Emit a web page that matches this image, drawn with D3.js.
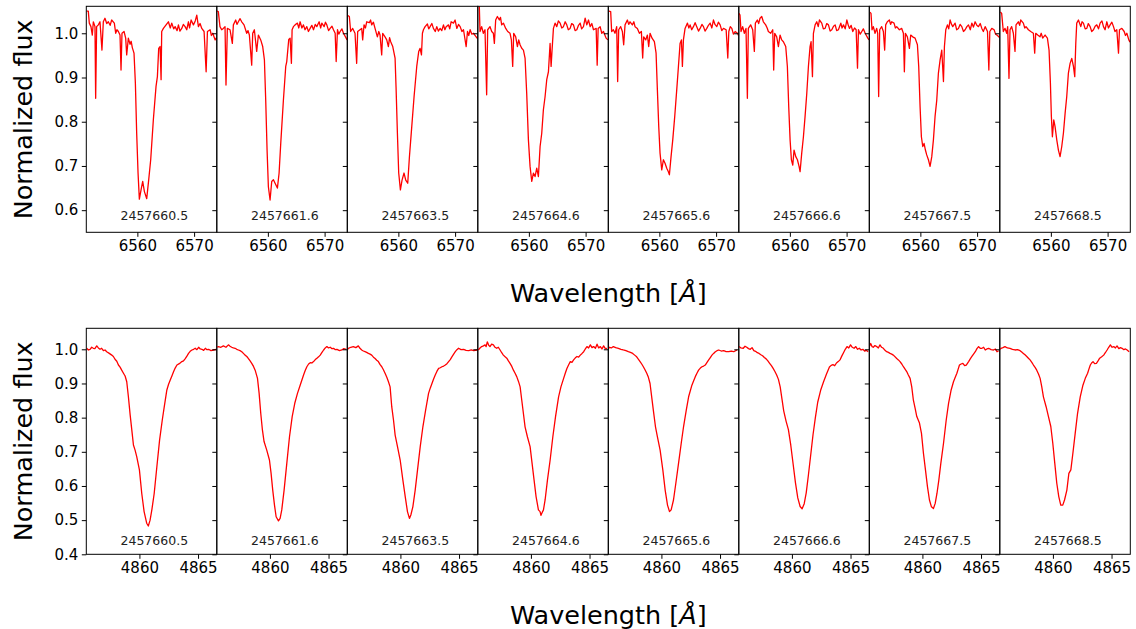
<!DOCTYPE html>
<meta charset="utf-8">
<script src="https://d3js.org/d3.v7.min.js"></script>
<style>
  body { margin: 0; background: #fff; }
  text { font-family: "DejaVu Sans", sans-serif; }
</style>
<div id="chart"></div>
<script>

// observation dates (JD) shown in every panel
var dates = ["2457660.5", "2457661.6", "2457663.5", "2457664.6", "2457665.6", "2457666.6", "2457667.5", "2457668.5"];

// tick values
var haWaveTicks = [6560, 6570];
var hbWaveTicks = [4860, 4865];
var haFluxTicks = [0.6, 0.7, 0.8, 0.9, 1.0];
var hbFluxTicks = [0.4, 0.5, 0.6, 0.7, 0.8, 0.9, 1.0];

// H-alpha spectra, [wavelength, flux]
var ha1 = [[6551.05,1.05],[6551.35,1.05],[6551.53,1.023],[6551.82,1.015],[6552.06,0.996],[6552.24,1.026],[6552.53,1.015],[6552.65,0.853],[6552.82,1.015],[6553.12,1.019],[6553.41,1.026],[6553.76,0.962],[6554.0,1.026],[6554.29,1.034],[6554.6,1.022],[6554.88,1.026],[6555.2,1.018],[6555.47,1.03],[6555.94,1.023],[6556.18,1.0],[6556.4,1.008],[6556.65,1.004],[6556.94,0.996],[6557.12,0.917],[6557.29,1.0],[6557.65,1.004],[6557.94,0.989],[6558.12,0.951],[6558.41,0.989],[6558.71,0.975],[6558.9,0.982],[6559.12,0.967],[6559.41,0.955],[6559.65,0.887],[6559.88,0.774],[6560.12,0.684],[6560.35,0.625],[6560.65,0.646],[6560.94,0.665],[6561.24,0.642],[6561.65,0.626],[6562.0,0.669],[6562.35,0.714],[6562.82,0.805],[6563.29,0.88],[6563.53,0.902],[6563.76,0.966],[6564.0,0.97],[6564.18,0.895],[6564.29,1.004],[6564.59,1.011],[6565.06,1.019],[6565.47,1.026],[6565.8,1.012],[6566.06,1.023],[6566.4,1.01],[6566.65,1.015],[6567.0,1.006],[6567.24,1.019],[6567.5,1.005],[6567.82,1.011],[6568.1,1.02],[6568.41,1.015],[6568.7,1.008],[6569.0,1.026],[6569.2,1.012],[6569.47,1.03],[6569.88,1.019],[6570.2,1.028],[6570.47,1.041],[6570.76,1.015],[6571.05,1.022],[6571.35,1.011],[6571.76,1.004],[6572.12,0.913],[6572.35,1.004],[6572.82,1.008],[6573.05,0.995],[6573.29,1.0],[6573.71,0.985],[6573.95,0.99]];
var ha2 = [[6551.05,1.05],[6551.27,1.049],[6551.56,1.015],[6551.86,1.008],[6552.15,1.011],[6552.45,1.015],[6552.62,0.883],[6552.86,1.011],[6553.33,1.008],[6553.74,0.977],[6553.92,1.019],[6554.33,1.03],[6554.55,1.02],[6554.8,1.026],[6555.1,1.033],[6555.39,1.026],[6555.8,1.019],[6556.27,1.0],[6556.5,1.006],[6556.74,0.996],[6557.15,0.928],[6557.33,1.0],[6557.62,1.008],[6558.03,0.959],[6558.33,0.996],[6558.74,0.985],[6559.09,0.97],[6559.39,0.94],[6559.62,0.849],[6559.86,0.736],[6560.09,0.653],[6560.39,0.623],[6560.68,0.665],[6560.98,0.669],[6561.27,0.661],[6561.68,0.65],[6561.98,0.684],[6562.27,0.751],[6562.74,0.849],[6563.15,0.925],[6563.33,0.936],[6563.51,0.962],[6563.68,0.986],[6563.92,0.989],[6564.15,0.932],[6564.27,1.008],[6564.5,1.015],[6564.8,1.019],[6565.21,1.023],[6565.45,1.012],[6565.68,1.026],[6566.0,1.012],[6566.27,1.019],[6566.55,1.008],[6566.86,1.015],[6567.15,1.004],[6567.45,1.011],[6567.75,1.018],[6568.04,1.008],[6568.35,1.02],[6568.62,1.015],[6569.04,1.026],[6569.3,1.012],[6569.51,1.023],[6569.92,1.015],[6570.15,1.025],[6570.39,1.019],[6570.7,1.006],[6570.98,1.011],[6571.3,1.016],[6571.56,1.008],[6571.86,1.0],[6572.04,0.936],[6572.27,1.008],[6572.5,0.998],[6572.74,1.004],[6573.05,1.01],[6573.33,1.0],[6573.8,0.989],[6573.95,0.985]];
var ha3 = [[6551.1,1.04],[6551.36,1.038],[6551.59,1.004],[6551.95,1.011],[6552.36,1.0],[6552.65,0.932],[6552.83,1.004],[6553.24,1.008],[6553.54,1.011],[6553.71,0.985],[6553.95,1.019],[6554.2,1.012],[6554.42,1.026],[6554.89,1.024],[6555.1,1.03],[6555.3,1.019],[6555.6,1.025],[6555.89,1.011],[6556.3,0.992],[6556.55,1.004],[6556.77,0.996],[6557.06,0.951],[6557.24,1.0],[6557.65,0.992],[6557.95,0.985],[6558.24,0.97],[6558.45,0.99],[6558.65,0.981],[6559.01,0.97],[6559.42,0.944],[6559.59,0.879],[6559.83,0.774],[6560.06,0.684],[6560.36,0.646],[6560.65,0.668],[6561.0,0.684],[6561.3,0.668],[6561.65,0.661],[6561.95,0.721],[6562.36,0.789],[6562.77,0.857],[6563.24,0.925],[6563.59,0.959],[6563.83,0.966],[6564.07,0.951],[6564.24,1.0],[6564.42,1.008],[6564.71,1.015],[6565.12,1.021],[6565.35,1.01],[6565.59,1.015],[6565.9,1.022],[6566.18,1.011],[6566.5,1.004],[6566.77,1.015],[6567.05,1.005],[6567.36,1.011],[6567.65,1.006],[6567.95,1.019],[6568.2,1.008],[6568.42,1.015],[6568.83,1.019],[6569.05,1.01],[6569.3,1.026],[6569.71,1.023],[6570.0,1.03],[6570.3,1.011],[6570.6,1.02],[6570.89,1.015],[6571.2,1.004],[6571.48,1.008],[6571.95,0.97],[6572.18,1.004],[6572.4,0.995],[6572.65,1.008],[6572.95,0.998],[6573.24,1.0],[6573.71,0.992],[6573.95,0.988]];
var ha4 = [[6551.1,1.07],[6551.27,1.06],[6551.39,1.004],[6551.68,1.015],[6551.98,1.0],[6552.27,1.008],[6552.56,0.861],[6552.74,1.008],[6553.15,1.015],[6553.45,1.004],[6553.74,1.0],[6553.92,0.977],[6554.15,1.03],[6554.45,1.038],[6554.8,1.03],[6555.0,1.036],[6555.21,1.019],[6555.51,1.023],[6555.92,1.011],[6556.27,1.004],[6556.68,1.0],[6556.92,0.985],[6557.15,0.925],[6557.33,1.0],[6557.68,0.992],[6557.98,0.97],[6558.21,0.985],[6558.45,0.974],[6558.74,0.966],[6559.04,0.962],[6559.33,0.944],[6559.62,0.864],[6559.92,0.759],[6560.21,0.699],[6560.51,0.665],[6560.8,0.684],[6561.09,0.676],[6561.39,0.695],[6561.68,0.676],[6561.98,0.744],[6562.27,0.774],[6562.56,0.827],[6562.86,0.857],[6563.15,0.895],[6563.45,0.913],[6563.74,0.977],[6563.92,0.925],[6564.09,0.962],[6564.33,1.011],[6564.62,1.023],[6564.92,1.015],[6565.2,1.028],[6565.51,1.023],[6565.8,1.012],[6566.09,1.015],[6566.4,1.026],[6566.68,1.019],[6566.95,1.008],[6567.27,1.011],[6567.55,1.022],[6567.86,1.019],[6568.15,1.006],[6568.45,1.008],[6568.75,1.018],[6569.04,1.023],[6569.3,1.01],[6569.62,1.015],[6569.92,1.034],[6570.21,1.019],[6570.51,1.03],[6570.8,1.015],[6571.1,1.022],[6571.39,1.008],[6571.86,1.011],[6572.04,0.928],[6572.21,1.011],[6572.56,1.015],[6572.85,1.0],[6573.15,1.004],[6573.62,0.989],[6573.92,0.985]];
var ha5 = [[6551.1,1.05],[6551.42,1.049],[6551.59,1.004],[6551.89,1.008],[6552.18,1.0],[6552.48,1.015],[6552.65,0.891],[6552.83,1.008],[6553.18,1.015],[6553.48,1.004],[6553.71,0.974],[6553.95,1.019],[6554.36,1.03],[6554.6,1.02],[6554.83,1.026],[6555.24,1.019],[6555.5,1.026],[6555.71,1.015],[6556.12,1.011],[6556.48,1.0],[6556.83,1.004],[6557.06,0.944],[6557.24,0.992],[6557.59,0.985],[6557.89,0.996],[6558.12,0.97],[6558.36,1.0],[6558.71,0.989],[6559.12,0.981],[6559.42,0.955],[6559.65,0.872],[6559.89,0.789],[6560.12,0.729],[6560.42,0.691],[6560.71,0.714],[6561.0,0.706],[6561.3,0.695],[6561.59,0.687],[6561.77,0.68],[6562.06,0.721],[6562.36,0.759],[6562.71,0.812],[6563.06,0.872],[6563.36,0.925],[6563.65,0.977],[6563.89,0.985],[6564.06,0.925],[6564.24,0.985],[6564.53,1.011],[6564.95,1.023],[6565.2,1.012],[6565.42,1.019],[6565.7,1.008],[6566.0,1.015],[6566.3,1.024],[6566.59,1.015],[6566.9,1.005],[6567.18,1.011],[6567.5,1.02],[6567.77,1.015],[6568.05,1.005],[6568.36,1.011],[6568.65,1.018],[6568.95,1.023],[6569.25,1.012],[6569.53,1.03],[6569.8,1.02],[6570.12,1.015],[6570.4,1.025],[6570.71,1.019],[6571.0,1.006],[6571.3,1.011],[6571.77,1.008],[6572.06,0.944],[6572.24,1.004],[6572.5,1.015],[6572.77,1.011],[6573.05,0.998],[6573.36,1.004],[6573.77,1.0],[6573.95,0.995]];
var ha6 = [[6551.05,1.045],[6551.21,1.041],[6551.39,1.004],[6551.68,1.015],[6551.98,1.0],[6552.27,1.011],[6552.51,0.853],[6552.68,1.011],[6553.09,1.019],[6553.45,1.008],[6553.74,0.959],[6553.92,1.023],[6554.27,1.03],[6554.5,1.022],[6554.74,1.034],[6555.04,1.038],[6555.33,1.026],[6555.74,1.019],[6556.0,1.012],[6556.21,1.004],[6556.62,1.0],[6556.98,1.008],[6557.15,0.917],[6557.33,1.0],[6557.68,0.992],[6557.98,0.97],[6558.27,0.996],[6558.56,0.985],[6558.86,0.981],[6559.27,0.97],[6559.56,0.925],[6559.8,0.834],[6560.04,0.759],[6560.27,0.714],[6560.51,0.702],[6560.74,0.736],[6561.04,0.721],[6561.33,0.714],[6561.62,0.699],[6561.8,0.687],[6562.09,0.729],[6562.39,0.766],[6562.68,0.812],[6562.98,0.864],[6563.27,0.925],[6563.56,0.97],[6563.74,0.981],[6563.98,0.902],[6564.15,1.0],[6564.45,1.019],[6564.74,1.026],[6565.0,1.015],[6565.21,1.03],[6565.62,1.023],[6565.9,1.01],[6566.21,1.011],[6566.5,1.022],[6566.8,1.019],[6567.1,1.005],[6567.39,1.008],[6567.7,1.016],[6567.98,1.019],[6568.25,1.006],[6568.56,1.008],[6568.98,1.023],[6569.2,1.012],[6569.45,1.019],[6569.75,1.01],[6570.04,1.03],[6570.3,1.018],[6570.51,1.011],[6570.8,1.018],[6571.09,1.004],[6571.4,1.012],[6571.68,1.008],[6571.92,0.921],[6572.09,1.008],[6572.4,0.998],[6572.68,1.004],[6572.95,1.01],[6573.27,1.0],[6573.74,0.989],[6573.95,0.985]];
var ha7 = [[6551.1,1.048],[6551.3,1.045],[6551.48,1.008],[6551.71,1.015],[6552.01,1.0],[6552.3,1.011],[6552.48,1.0],[6552.65,0.857],[6552.83,1.008],[6553.18,1.015],[6553.48,1.004],[6553.71,0.962],[6553.89,1.019],[6554.18,1.026],[6554.54,1.03],[6554.75,1.02],[6554.95,1.026],[6555.36,1.023],[6555.6,1.012],[6555.83,1.015],[6556.3,1.008],[6556.71,1.011],[6557.01,1.0],[6557.18,0.913],[6557.36,1.0],[6557.71,0.992],[6558.07,0.966],[6558.3,0.996],[6558.65,0.992],[6559.07,0.989],[6559.48,0.974],[6559.71,0.925],[6559.95,0.834],[6560.18,0.766],[6560.42,0.744],[6560.65,0.751],[6560.89,0.736],[6561.12,0.725],[6561.42,0.714],[6561.71,0.699],[6562.01,0.721],[6562.3,0.759],[6562.59,0.812],[6562.89,0.849],[6563.18,0.91],[6563.48,0.94],[6563.77,0.962],[6564.07,0.891],[6564.24,0.97],[6564.48,1.008],[6564.77,1.019],[6565.0,1.01],[6565.24,1.03],[6565.5,1.02],[6565.71,1.015],[6566.12,1.023],[6566.4,1.008],[6566.71,1.011],[6567.0,1.02],[6567.3,1.015],[6567.6,1.004],[6567.89,1.008],[6568.2,1.015],[6568.48,1.019],[6568.8,1.008],[6569.07,1.023],[6569.35,1.014],[6569.65,1.026],[6569.95,1.018],[6570.24,1.015],[6570.55,1.022],[6570.83,1.011],[6571.1,1.004],[6571.42,1.015],[6571.83,1.004],[6572.07,0.917],[6572.24,1.004],[6572.59,1.011],[6573.0,1.008],[6573.25,0.998],[6573.48,0.996],[6573.83,0.992],[6573.95,0.99]];
var ha8 = [[6551.1,1.048],[6551.33,1.045],[6551.62,1.004],[6551.92,1.011],[6552.21,1.0],[6552.39,1.015],[6552.62,0.898],[6552.8,1.008],[6553.09,1.015],[6553.39,1.0],[6553.68,0.959],[6553.86,1.019],[6554.27,1.026],[6554.5,1.018],[6554.68,1.03],[6555.15,1.023],[6555.4,1.012],[6555.62,1.015],[6556.04,1.008],[6556.45,1.004],[6556.92,1.0],[6557.15,0.955],[6557.33,1.0],[6557.68,0.996],[6558.09,0.992],[6558.3,1.0],[6558.56,0.989],[6558.98,0.996],[6559.39,0.989],[6559.68,0.962],[6559.92,0.887],[6560.09,0.812],[6560.27,0.766],[6560.51,0.804],[6560.74,0.789],[6561.04,0.759],[6561.33,0.736],[6561.62,0.721],[6561.92,0.744],[6562.21,0.774],[6562.51,0.819],[6562.8,0.857],[6563.09,0.91],[6563.39,0.932],[6563.68,0.943],[6563.98,0.925],[6564.21,0.902],[6564.39,0.977],[6564.56,1.023],[6564.86,1.03],[6565.27,1.015],[6565.5,1.026],[6565.74,1.023],[6566.05,1.01],[6566.33,1.011],[6566.6,1.022],[6566.92,1.015],[6567.2,1.004],[6567.51,1.008],[6567.8,1.016],[6568.09,1.019],[6568.4,1.01],[6568.68,1.023],[6569.0,1.028],[6569.27,1.015],[6569.55,1.008],[6569.86,1.026],[6570.15,1.012],[6570.45,1.019],[6570.75,1.025],[6571.04,1.015],[6571.3,1.004],[6571.62,1.008],[6571.92,0.955],[6572.09,1.008],[6572.51,1.011],[6572.92,1.004],[6573.15,0.995],[6573.39,1.0],[6573.74,0.985],[6573.95,0.98]];

// H-beta spectra, [wavelength, flux]
var hb1 = [[4855.5,1.003],[4855.65,0.998],[4855.79,1.0],[4855.93,1.006],[4856.07,1.003],[4856.2,1.002],[4856.36,1.01],[4856.5,1.004],[4856.64,1.0],[4856.78,1.003],[4856.93,0.996],[4857.07,0.998],[4857.21,0.993],[4857.43,0.988],[4857.64,0.983],[4857.78,0.979],[4857.92,0.971],[4858.07,0.965],[4858.21,0.954],[4858.35,0.948],[4858.49,0.939],[4858.64,0.93],[4858.78,0.922],[4858.92,0.905],[4859.06,0.861],[4859.21,0.808],[4859.35,0.764],[4859.49,0.72],[4859.63,0.705],[4859.77,0.686],[4860.0,0.647],[4860.2,0.578],[4860.4,0.525],[4860.62,0.491],[4860.76,0.483],[4860.91,0.5],[4861.06,0.53],[4861.26,0.578],[4861.49,0.657],[4861.72,0.734],[4861.95,0.793],[4862.12,0.832],[4862.34,0.881],[4862.48,0.897],[4862.63,0.91],[4862.77,0.922],[4862.91,0.934],[4863.05,0.945],[4863.2,0.954],[4863.4,0.958],[4863.62,0.964],[4863.76,0.966],[4863.91,0.973],[4864.05,0.98],[4864.19,0.988],[4864.33,0.994],[4864.48,0.998],[4864.62,1.0],[4864.76,1.003],[4864.9,0.999],[4865.05,1.006],[4865.19,1.001],[4865.33,1.0],[4865.48,0.997],[4865.62,1.003],[4865.76,0.999],[4865.9,1.0],[4866.1,0.996],[4866.33,0.998],[4866.56,1.0]];
var hb2 = [[4855.5,1.006],[4855.6,1.008],[4855.82,1.006],[4856.03,1.01],[4856.25,1.006],[4856.46,1.013],[4856.6,1.009],[4856.74,1.006],[4856.88,1.004],[4857.03,1.003],[4857.17,1.0],[4857.31,0.998],[4857.45,0.996],[4857.6,0.993],[4857.74,0.988],[4857.88,0.983],[4858.03,0.979],[4858.17,0.973],[4858.31,0.966],[4858.45,0.959],[4858.6,0.95],[4858.74,0.939],[4858.94,0.915],[4859.08,0.871],[4859.22,0.812],[4859.36,0.764],[4859.5,0.73],[4859.73,0.705],[4859.96,0.676],[4860.1,0.637],[4860.24,0.588],[4860.39,0.544],[4860.53,0.51],[4860.73,0.498],[4860.87,0.505],[4861.01,0.53],[4861.21,0.588],[4861.44,0.666],[4861.67,0.744],[4861.9,0.803],[4862.12,0.842],[4862.35,0.871],[4862.58,0.895],[4862.87,0.925],[4863.01,0.938],[4863.15,0.949],[4863.3,0.957],[4863.44,0.961],[4863.58,0.96],[4863.72,0.964],[4863.87,0.97],[4864.01,0.974],[4864.15,0.978],[4864.29,0.983],[4864.44,0.991],[4864.58,0.998],[4864.72,1.004],[4864.86,1.008],[4865.0,1.004],[4865.15,1.006],[4865.29,1.002],[4865.43,1.003],[4865.58,0.999],[4865.72,1.0],[4865.93,0.996],[4866.14,0.998],[4866.3,1.002],[4866.5,1.0]];
var hb3 = [[4855.5,1.0],[4855.56,1.003],[4855.77,1.006],[4855.98,1.008],[4856.2,1.005],[4856.41,1.01],[4856.55,1.003],[4856.7,0.998],[4856.84,0.995],[4856.98,0.993],[4857.12,0.991],[4857.27,0.988],[4857.41,0.986],[4857.55,0.983],[4857.7,0.977],[4857.84,0.973],[4857.98,0.968],[4858.12,0.964],[4858.27,0.955],[4858.41,0.949],[4858.55,0.94],[4858.69,0.93],[4858.84,0.918],[4858.98,0.905],[4859.12,0.89],[4859.26,0.832],[4859.41,0.793],[4859.55,0.749],[4859.75,0.715],[4859.98,0.676],[4860.21,0.617],[4860.41,0.569],[4860.6,0.525],[4860.77,0.505],[4860.89,0.515],[4861.06,0.539],[4861.26,0.588],[4861.46,0.647],[4861.69,0.715],[4861.92,0.774],[4862.15,0.822],[4862.4,0.871],[4862.55,0.887],[4862.69,0.9],[4862.83,0.913],[4862.97,0.925],[4863.12,0.936],[4863.26,0.944],[4863.4,0.946],[4863.54,0.949],[4863.69,0.951],[4863.83,0.954],[4863.97,0.958],[4864.11,0.964],[4864.25,0.97],[4864.39,0.978],[4864.54,0.986],[4864.68,0.993],[4864.82,0.999],[4864.96,1.003],[4865.17,0.999],[4865.39,1.0],[4865.6,0.997],[4865.83,0.996],[4866.04,0.998],[4866.25,0.996],[4866.54,0.998]];
var hb4 = [[4855.5,0.998],[4855.66,1.004],[4855.8,1.008],[4855.95,1.01],[4856.09,1.013],[4856.18,1.008],[4856.28,1.022],[4856.4,1.012],[4856.51,1.008],[4856.65,1.015],[4856.8,1.013],[4856.94,1.006],[4857.08,1.003],[4857.22,1.006],[4857.37,0.998],[4857.51,0.99],[4857.65,0.983],[4857.8,0.978],[4857.94,0.974],[4858.08,0.966],[4858.22,0.959],[4858.37,0.95],[4858.51,0.939],[4858.65,0.93],[4858.79,0.92],[4858.94,0.906],[4859.08,0.89],[4859.22,0.851],[4859.36,0.812],[4859.5,0.773],[4859.7,0.744],[4859.93,0.715],[4860.1,0.666],[4860.27,0.617],[4860.44,0.569],[4860.64,0.53],[4860.78,0.525],[4860.86,0.514],[4860.93,0.52],[4861.07,0.53],[4861.21,0.559],[4861.41,0.617],[4861.64,0.676],[4861.87,0.744],[4862.1,0.803],[4862.36,0.861],[4862.56,0.89],[4862.79,0.915],[4862.93,0.93],[4863.07,0.944],[4863.22,0.955],[4863.36,0.964],[4863.5,0.962],[4863.64,0.969],[4863.79,0.975],[4863.93,0.979],[4864.07,0.977],[4864.21,0.983],[4864.36,0.988],[4864.5,0.993],[4864.64,1.001],[4864.78,1.008],[4864.92,1.004],[4865.07,1.013],[4865.21,1.005],[4865.35,1.008],[4865.5,1.003],[4865.64,1.015],[4865.78,1.004],[4865.92,1.008],[4866.06,1.001],[4866.2,1.01],[4866.35,1.002],[4866.49,1.003]];
var hb5 = [[4855.5,1.003],[4855.56,1.006],[4855.73,1.004],[4855.9,1.008],[4856.1,1.005],[4856.33,1.003],[4856.55,1.0],[4856.75,0.998],[4856.97,0.996],[4857.18,0.993],[4857.36,0.991],[4857.55,0.988],[4857.72,0.983],[4857.89,0.978],[4858.03,0.971],[4858.18,0.964],[4858.32,0.957],[4858.46,0.949],[4858.6,0.94],[4858.75,0.93],[4858.89,0.918],[4859.03,0.9],[4859.17,0.861],[4859.31,0.822],[4859.49,0.774],[4859.66,0.744],[4859.89,0.705],[4860.12,0.647],[4860.32,0.588],[4860.52,0.544],[4860.69,0.525],[4860.83,0.53],[4861.03,0.559],[4861.23,0.608],[4861.46,0.666],[4861.69,0.725],[4861.89,0.774],[4862.12,0.822],[4862.32,0.861],[4862.6,0.895],[4862.75,0.908],[4862.89,0.92],[4863.03,0.93],[4863.17,0.939],[4863.32,0.945],[4863.46,0.949],[4863.6,0.951],[4863.74,0.954],[4863.89,0.962],[4864.03,0.969],[4864.17,0.976],[4864.31,0.983],[4864.45,0.988],[4864.6,0.993],[4864.74,0.996],[4864.89,0.998],[4865.1,0.995],[4865.31,0.996],[4865.52,0.993],[4865.74,0.993],[4865.95,0.995],[4866.17,0.993],[4866.45,0.998]];
var hb6 = [[4855.5,1.008],[4855.65,1.004],[4855.85,1.003],[4856.0,1.009],[4856.15,1.006],[4856.3,1.002],[4856.45,1.0],[4856.6,1.005],[4856.75,0.996],[4856.9,0.994],[4857.05,0.99],[4857.2,0.988],[4857.35,0.984],[4857.5,0.981],[4857.65,0.976],[4857.8,0.972],[4857.95,0.966],[4858.1,0.959],[4858.25,0.952],[4858.4,0.944],[4858.55,0.935],[4858.7,0.925],[4858.85,0.912],[4859.0,0.89],[4859.15,0.855],[4859.3,0.82],[4859.5,0.79],[4859.7,0.765],[4859.9,0.72],[4860.1,0.665],[4860.3,0.61],[4860.5,0.565],[4860.7,0.54],[4860.87,0.533],[4861.05,0.548],[4861.22,0.58],[4861.4,0.63],[4861.6,0.69],[4861.8,0.75],[4862.0,0.8],[4862.2,0.845],[4862.45,0.88],[4862.7,0.905],[4862.95,0.928],[4863.2,0.948],[4863.35,0.953],[4863.5,0.955],[4863.65,0.952],[4863.8,0.96],[4863.95,0.964],[4864.1,0.969],[4864.25,0.98],[4864.4,0.99],[4864.55,1.0],[4864.7,1.008],[4864.85,1.004],[4865.0,1.013],[4865.15,1.006],[4865.3,1.003],[4865.45,1.008],[4865.6,1.0],[4865.75,1.003],[4865.9,0.998],[4866.05,1.0],[4866.2,0.995],[4866.35,0.997],[4866.5,0.993]];
var hb7 = [[4855.5,1.01],[4855.59,1.017],[4855.7,1.008],[4855.81,1.006],[4855.95,1.011],[4856.1,1.008],[4856.24,1.004],[4856.38,1.013],[4856.52,1.006],[4856.67,1.003],[4856.81,0.997],[4856.95,0.993],[4857.1,0.991],[4857.24,0.988],[4857.38,0.986],[4857.52,0.983],[4857.67,0.978],[4857.81,0.973],[4857.95,0.969],[4858.09,0.964],[4858.24,0.957],[4858.38,0.949],[4858.52,0.942],[4858.66,0.935],[4858.8,0.925],[4858.95,0.915],[4859.09,0.89],[4859.23,0.851],[4859.38,0.827],[4859.52,0.803],[4859.75,0.784],[4859.92,0.754],[4860.09,0.695],[4860.26,0.647],[4860.43,0.598],[4860.6,0.559],[4860.77,0.539],[4860.94,0.534],[4861.09,0.549],[4861.24,0.578],[4861.4,0.617],[4861.57,0.666],[4861.8,0.725],[4862.03,0.793],[4862.23,0.842],[4862.45,0.881],[4862.65,0.905],[4862.8,0.918],[4862.94,0.93],[4863.05,0.942],[4863.16,0.954],[4863.3,0.957],[4863.45,0.959],[4863.6,0.952],[4863.74,0.954],[4863.94,0.964],[4864.08,0.972],[4864.22,0.979],[4864.36,0.986],[4864.51,0.993],[4864.65,1.002],[4864.79,1.008],[4864.93,1.003],[4865.08,1.003],[4865.22,1.006],[4865.36,0.998],[4865.5,1.001],[4865.65,1.003],[4865.86,0.999],[4866.07,0.998],[4866.22,1.001],[4866.36,0.993],[4866.5,0.996]];
var hb8 = [[4855.5,1.0],[4855.57,1.003],[4855.74,1.005],[4855.91,1.008],[4856.12,1.004],[4856.34,1.003],[4856.55,1.0],[4856.77,0.998],[4856.98,0.999],[4857.2,0.996],[4857.34,0.992],[4857.48,0.988],[4857.62,0.984],[4857.77,0.979],[4857.91,0.974],[4858.05,0.969],[4858.2,0.962],[4858.34,0.954],[4858.48,0.947],[4858.62,0.939],[4858.77,0.928],[4858.91,0.915],[4859.05,0.89],[4859.19,0.861],[4859.42,0.832],[4859.62,0.803],[4859.82,0.774],[4859.99,0.725],[4860.16,0.666],[4860.33,0.608],[4860.5,0.569],[4860.67,0.544],[4860.84,0.544],[4860.99,0.559],[4861.19,0.588],[4861.36,0.637],[4861.53,0.647],[4861.7,0.695],[4861.9,0.754],[4862.1,0.812],[4862.33,0.861],[4862.56,0.895],[4862.76,0.915],[4862.96,0.93],[4863.07,0.942],[4863.19,0.954],[4863.3,0.96],[4863.42,0.964],[4863.56,0.958],[4863.71,0.959],[4863.85,0.966],[4863.99,0.974],[4864.16,0.978],[4864.33,0.983],[4864.47,0.99],[4864.62,0.998],[4864.76,1.006],[4864.9,1.013],[4865.05,1.006],[4865.19,1.008],[4865.33,1.004],[4865.47,1.01],[4865.62,1.002],[4865.76,1.005],[4865.9,1.003],[4866.05,0.999],[4866.19,1.001],[4866.33,0.998],[4866.5,0.993]];

var haSpectra = [ha1, ha2, ha3, ha4, ha5, ha6, ha7, ha8];
var hbSpectra = [hb1, hb2, hb3, hb4, hb5, hb6, hb7, hb8];

var width = 1136, height = 629;
var plotLeft = 86.3, panelW = 130.5;

var svg = d3.select("#chart")
  .append("svg")
    .attr("width", width)
    .attr("height", height);

var rows = [
  { spectra: haSpectra, wave: [6551, 6574], flux: [0.55, 1.061], top: 6.3, bottom: 232.3,
    waveTicks: haWaveTicks, fluxTicks: haFluxTicks },
  { spectra: hbSpectra, wave: [4855.47, 4866.6], flux: [0.4, 1.0615], top: 328.3, bottom: 554.3,
    waveTicks: hbWaveTicks, fluxTicks: hbFluxTicks }
];

rows.forEach(function(row, r) {
  var y = d3.scaleLinear().domain(row.flux).range([row.bottom, row.top]);

  row.spectra.forEach(function(spec, i) {
    var x0 = plotLeft + i * panelW;
    var x = d3.scaleLinear().domain(row.wave).range([x0, x0 + panelW]);
    var g = svg.append("g");

    // clip so the line stays inside the frame
    var clipId = "clip" + r + "_" + i;
    svg.append("clipPath").attr("id", clipId)
      .append("rect")
        .attr("x", x0).attr("y", row.top)
        .attr("width", panelW).attr("height", row.bottom - row.top);

    var line = d3.line()
      .x(function(d) { return x(d[0]); })
      .y(function(d) { return y(d[1]); });

    g.append("path")
      .datum(spec)
      .attr("clip-path", "url(#" + clipId + ")")
      .attr("fill", "none")
      .attr("stroke", "#ff0000")
      .attr("stroke-width", 1.3)
      .attr("stroke-linejoin", "round")
      .attr("d", line);

    // date label
    g.append("text")
      .attr("x", x0 + 68)
      .attr("y", r == 0 ? 219.5 : 544.5)
      .attr("text-anchor", "middle")
      .style("font-size", "12.5px")
      .style("fill", "#222")
      .text(dates[i]);

    // x axis
    var xAxis = g.append("g")
      .attr("transform", "translate(0," + row.bottom + ")")
      .call(d3.axisBottom(x).tickValues(row.waveTicks).tickSize(4.5).tickPadding(3.5).tickFormat(d3.format("d")));

    // y axis (labels only on first panel)
    var yAxis = g.append("g")
      .attr("transform", "translate(" + x0 + ",0)")
      .call(d3.axisLeft(y).tickValues(row.fluxTicks).tickSize(4.5).tickPadding(3.5)
        .tickFormat(i == 0 ? d3.format(".1f") : function() { return ""; }));

    [xAxis, yAxis].forEach(function(a) {
      a.select(".domain").remove();
      a.selectAll("line").attr("stroke", "#000").attr("stroke-width", 1);
      a.selectAll("text").style("font-size", "15px").style("fill", "#000")
        .style("font-family", "'DejaVu Sans', sans-serif");
    });

    // frame
    g.append("rect")
      .attr("x", x0).attr("y", row.top)
      .attr("width", panelW).attr("height", row.bottom - row.top)
      .attr("fill", "none")
      .attr("stroke", "#000")
      .attr("stroke-width", 1);
  });

  // axis titles
  svg.append("text")
    .attr("transform", "translate(32.3," + ((row.top + row.bottom) / 2) + ") rotate(-90)")
    .attr("text-anchor", "middle")
    .style("font-size", "25.5px")
    .style("fill", "#000")
    .text("Normalized flux");

  var xl = svg.append("text")
    .attr("x", plotLeft + 4 * panelW)
    .attr("y", row.bottom + 70)
    .attr("text-anchor", "middle")
    .style("font-size", "25.5px")
    .style("fill", "#000");
  xl.append("tspan").text("Wavelength [");
  xl.append("tspan").style("font-style", "italic").text("Å");
  xl.append("tspan").text("]");
});

</script>
